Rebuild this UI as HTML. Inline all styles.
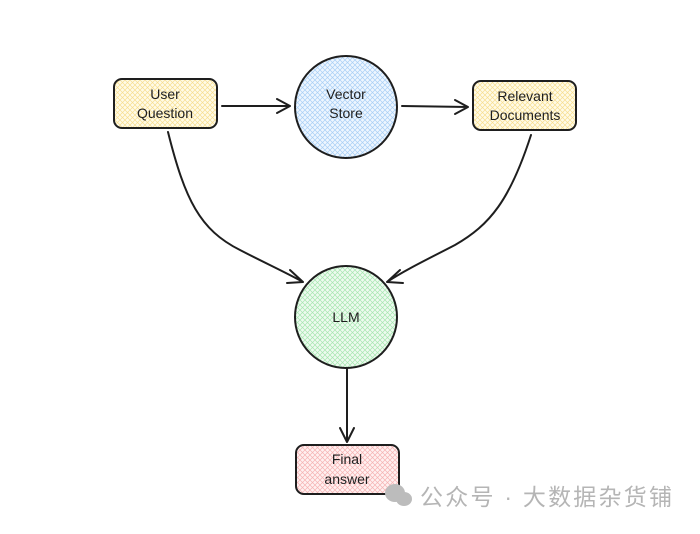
<!DOCTYPE html>
<html><head><meta charset="utf-8"><style>
html,body{margin:0;padding:0;background:#fff;}
svg{display:block;}
text{font-family:"Liberation Sans",sans-serif;}
</style></head><body>
<svg width="700" height="534" viewBox="0 0 700 534" xmlns="http://www.w3.org/2000/svg">
<defs>
<pattern id="hy" width="5" height="5" patternUnits="userSpaceOnUse"><rect width="5" height="5" fill="#fffbe8"/><path d="M0 0L5 5M5 0L0 5" stroke="#f7de8f" stroke-width="0.7"/></pattern>
<pattern id="hb" width="5" height="5" patternUnits="userSpaceOnUse"><rect width="5" height="5" fill="#eef6ff"/><path d="M0 0L5 5M5 0L0 5" stroke="#a8cff5" stroke-width="0.7"/></pattern>
<pattern id="hg" width="5" height="5" patternUnits="userSpaceOnUse"><rect width="5" height="5" fill="#eefbf0"/><path d="M0 0L5 5M5 0L0 5" stroke="#a7e6b0" stroke-width="0.7"/></pattern>
<pattern id="hr" width="5" height="5" patternUnits="userSpaceOnUse"><rect width="5" height="5" fill="#fff1f1"/><path d="M0 0L5 5M5 0L0 5" stroke="#f5b3b3" stroke-width="0.7"/></pattern>
</defs>
<g stroke="#1e1e1e" stroke-width="2" fill="none" stroke-linecap="round" stroke-linejoin="round">
<rect x="114" y="79" width="103" height="49" rx="8" fill="url(#hy)"/>
<circle cx="346" cy="107" r="51" fill="url(#hb)"/>
<rect x="473" y="81" width="103" height="49" rx="8" fill="url(#hy)"/>
<circle cx="346" cy="317" r="51" fill="url(#hg)"/>
<rect x="296" y="445" width="103" height="49" rx="8" fill="url(#hr)"/>
<path d="M222 106L290 106M277 99L290 106L277 113"/>
<path d="M402 106L468 107M455 100L468 107L455 114"/>
<path d="M168 132C185 200 200 230 240 250C265 263 285 272 303 282M290 270L303 282L287 283"/>
<path d="M531 135C510 200 490 225 455 245C430 258 405 270 387 282M400 270L387 282L403 283"/>
<path d="M347 368L347 442M340 428L347 442L354 428"/>
</g>
<g font-size="14" fill="#1e1e1e" text-anchor="middle">
<text x="165" y="99">User</text><text x="165" y="118">Question</text>
<text x="346" y="99">Vector</text><text x="346" y="118">Store</text>
<text x="525" y="101">Relevant</text><text x="525" y="120">Documents</text>
<text x="346" y="322">LLM</text>
<text x="347" y="464">Final</text><text x="347" y="484">answer</text>
</g>
<g fill="#bcbcbc"><ellipse cx="395" cy="493" rx="10" ry="9"/><ellipse cx="404" cy="499" rx="8" ry="7"/></g>
<text x="420" y="505" font-size="23" fill="#b5b5b5" style="font-family:'Liberation Sans','Noto Sans CJK SC',sans-serif" textLength="252">公众号 · 大数据杂货铺</text>
</svg>
</body></html>
